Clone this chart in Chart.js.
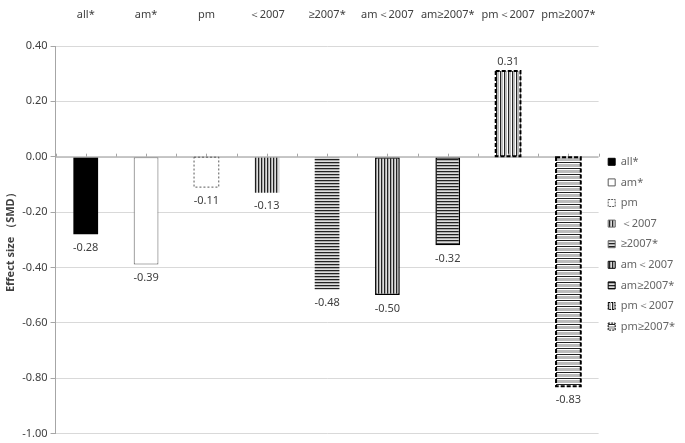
<!DOCTYPE html>
<html>
<head>
<meta charset="utf-8">
<script src="https://cdn.jsdelivr.net/npm/chart.js@4"></script>
<style>
  html, body { margin: 0; padding: 0; background: #fff; }
  #wrap { width: 685px; height: 443px; }
</style>
</head>
<body>
<div id="wrap"><canvas id="chart" width="685" height="443"></canvas></div>
<script>
// chart data
const categories = ['all*', 'am*', 'pm', '＜2007', '≥2007*', 'am＜2007', 'am≥2007*', 'pm＜2007', 'pm≥2007*'];
const effectSizes = [-0.28, -0.39, -0.11, -0.13, -0.48, -0.50, -0.32, 0.31, -0.83];
const yTicks = [0.4, 0.2, 0, -0.2, -0.4, -0.6, -0.8, -1.0];

const FONT = '"Noto Sans", sans-serif';
const TEXT = '#404040';

// build a small repeating pattern from stripe colours
function stripes(colors, vertical) {
    const c = document.createElement('canvas');
    const n = colors.length;
    c.width = vertical ? n : 1;
    c.height = vertical ? 1 : n;
    const g = c.getContext('2d');
    colors.forEach((col, i) => {
        g.fillStyle = col;
        if (vertical) g.fillRect(i, 0, 1, 1);
        else g.fillRect(0, i, 1, 1);
    });
    return g.createPattern(c, 'repeat');
}

const vFine = stripes(['#222', '#aaa', '#ddd'], true);
const hFine = stripes(['#222', '#aaa', '#ddd'], false);
const vWide = stripes(['#222', '#bbb', '#bbb', '#fff'], true);
const hWide = stripes(['#222', '#fff', '#bbb', '#bbb', '#bbb', '#fff'], false);

const fills = ['#000', '#fff', '#fff', vFine, hFine, vFine, hFine, vWide, hWide];
const borders = ['#000', '#595959', '#595959', 'rgba(0,0,0,0)', 'rgba(0,0,0,0)', '#000', '#000', '#000', '#000'];
const borderWidths = [0, 1, 1, 0, 0, 1.5, 1.5, 2, 2];
const dashed = [false, false, true, false, false, false, false, true, true];

// dashed outlines, value labels and little ticks on the zero line
const extras = {
    id: 'extras',
    afterDatasetsDraw(chart) {
        const ctx = chart.ctx;
        const meta = chart.getDatasetMeta(0);
        const xs = chart.scales.x;
        const ys = chart.scales.y;
        const y0 = ys.getPixelForValue(0);

        ctx.save();
        ctx.strokeStyle = '#a6a6a6';
        ctx.lineWidth = 1;
        ctx.beginPath();
        ctx.moveTo(chart.chartArea.left, y0 + 0.5);
        ctx.lineTo(chart.chartArea.right, y0 + 0.5);
        for (let i = 0; i <= categories.length * 2; i++) {
            const x = Math.round(xs.getPixelForValue(i / 2 - 0.5)) + 0.5;
            ctx.moveTo(x, y0);
            ctx.lineTo(x, y0 - 3);
        }
        ctx.stroke();

        meta.data.forEach((bar, i) => {
            const left = bar.x - bar.width / 2;
            const top = Math.min(bar.y, bar.base);
            const h = Math.abs(bar.base - bar.y);
            if (dashed[i]) {
                ctx.setLineDash(i === 2 ? [2, 2] : [4, 2]);
                ctx.strokeStyle = i === 2 ? '#595959' : '#000';
                ctx.lineWidth = i === 2 ? 1 : 2;
                ctx.strokeRect(left, top, bar.width, h);
                ctx.setLineDash([]);
            }
            const v = effectSizes[i];
            ctx.fillStyle = TEXT;
            ctx.font = '11px ' + FONT;
            ctx.textAlign = 'center';
            ctx.textBaseline = v < 0 ? 'top' : 'bottom';
            ctx.fillText(v.toFixed(2), bar.x, v < 0 ? bar.y + 8 : bar.y - 4);
        });
        ctx.restore();
    }
};

new Chart(document.getElementById('chart'), {
    type: 'bar',
    data: {
        labels: categories,
        datasets: [{
            data: effectSizes,
            backgroundColor: fills,
            borderColor: borders.map((b, i) => dashed[i] ? 'rgba(0,0,0,0)' : b),
            borderWidth: borderWidths.map((w, i) => dashed[i] ? 0 : w),
            borderSkipped: false,
            barPercentage: 0.41,
            categoryPercentage: 1
        }]
    },
    options: {
        responsive: false,
        animation: false,
        layout: { padding: { top: 0, right: 0, left: 2, bottom: 5 } },
        plugins: {
            tooltip: { enabled: false },
            legend: {
                position: 'right',
                title: { display: true, text: ' ', padding: 18 },
                labels: {
                    color: TEXT,
                    font: { family: FONT, size: 11 },
                    boxWidth: 7,
                    boxHeight: 7,
                    padding: 9.6,
                    generateLabels() {
                        return categories.map((c, i) => ({
                            text: c,
                            fillStyle: fills[i],
                            strokeStyle: i === 0 ? '#000' : (borders[i] === 'rgba(0,0,0,0)' ? '#666' : borders[i]),
                            lineWidth: 1,
                            lineDash: dashed[i] ? [2, 1] : [],
                            hidden: false,
                            index: i
                        }));
                    }
                }
            }
        },
        scales: {
            x: {
                position: 'top',
                grid: { display: false },
                border: { display: false },
                afterFit(scale) {
                    scale.height = 46;
                },
                ticks: {
                    color: TEXT,
                    font: { family: FONT, size: 11 },
                    padding: 17,
                    maxRotation: 0,
                    minRotation: 0,
                    autoSkip: false
                }
            },
            y: {
                min: -1,
                max: 0.4,
                afterBuildTicks(axis) {
                    axis.ticks = yTicks.map(v => ({ value: v }));
                },
                grid: { color: '#d9d9d9', tickLength: 5, tickColor: '#a6a6a6' },
                border: { color: '#a6a6a6' },
                ticks: {
                    color: TEXT,
                    font: { family: FONT, size: 11 },
                    padding: 3,
                    callback: v => (Math.abs(v) < 1e-9 ? 0 : v).toFixed(2)
                },
                title: {
                    display: true,
                    text: 'Effect size （SMD）',
                    color: TEXT,
                    font: { family: FONT, size: 11, weight: 'bold' },
                    padding: 2
                }
            }
        }
    },
    plugins: [extras]
});
</script>
</body>
</html>
